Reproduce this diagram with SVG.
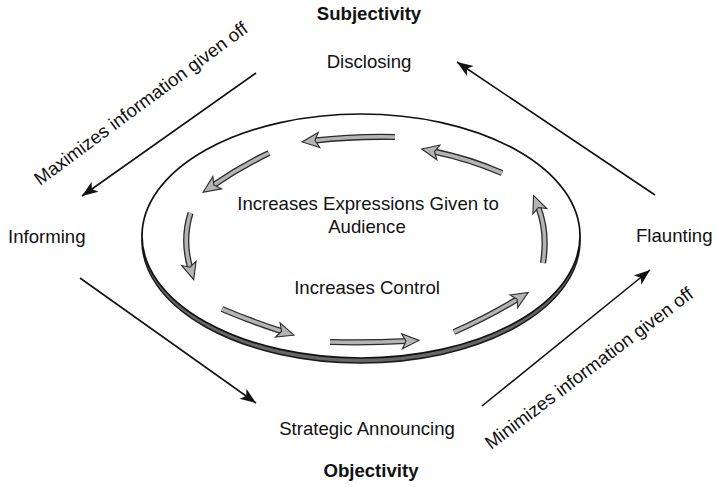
<svg xmlns="http://www.w3.org/2000/svg" width="717" height="487" viewBox="0 0 717 487">
<style>
text{font-family:"Liberation Sans",Arial,sans-serif;font-size:18.6px;fill:#111}
.b{font-weight:bold}
.c{text-anchor:middle}
.ln{fill:none;stroke:#111;stroke-width:1.6}
.so{fill:none;stroke:#2a2a2a;stroke-width:6.2;stroke-linecap:butt}
.si{fill:none;stroke:#b4b4b4;stroke-width:3.6;stroke-linecap:butt}
</style>
<defs>
<marker id="ah" markerUnits="userSpaceOnUse" markerWidth="20" markerHeight="14" refX="16" refY="6" orient="auto" overflow="visible">
<path d="M0,0 L16,6 L0,12 L4,6 Z" fill="#111"/>
</marker>
<marker id="bh" markerUnits="userSpaceOnUse" markerWidth="22" markerHeight="16" refX="5" refY="7.5" orient="auto" overflow="visible">
<path d="M0,0 L17,7.5 L0,15 L4,7.5 Z" fill="#b4b4b4" stroke="#2a2a2a" stroke-width="1.1" stroke-linejoin="miter"/>
</marker>
</defs>

<g id="disk">
<ellipse cx="361" cy="241" rx="219" ry="122" fill="#666" stroke="#1a1a1a" stroke-width="1.5"/>
<ellipse cx="361" cy="236" rx="219" ry="122" fill="#fff" stroke="#111" stroke-width="1.7"/>
</g>

<g id="cycle-arrows">
<path class="so" d="M395,137 Q355,136 314,140.6"/>
<path class="si" d="M395,137 Q355,136 314,140.6" marker-end="url(#bh)"/>
<path class="so" d="M502,173 Q470,159 433.5,151.4"/>
<path class="si" d="M502,173 Q470,159 433.5,151.4" marker-end="url(#bh)"/>
<path class="so" d="M543,263 Q548,232 538,206.6"/>
<path class="si" d="M543,263 Q548,232 538,206.6" marker-end="url(#bh)"/>
<path class="so" d="M454,332 Q490,316 518,298.7"/>
<path class="si" d="M454,332 Q490,316 518,298.7" marker-end="url(#bh)"/>
<path class="so" d="M330,342 Q368,343 407,341"/>
<path class="si" d="M330,342 Q368,343 407,341" marker-end="url(#bh)"/>
<path class="so" d="M222,309 Q250,321 282.5,331.5"/>
<path class="si" d="M222,309 Q250,321 282.5,331.5" marker-end="url(#bh)"/>
<path class="so" d="M190.5,213 Q182,240 190.3,268.2"/>
<path class="si" d="M190.5,213 Q182,240 190.3,268.2" marker-end="url(#bh)"/>
<path class="so" d="M269,153 Q240,167 213,185.5"/>
<path class="si" d="M269,153 Q240,167 213,185.5" marker-end="url(#bh)"/>
</g>

<g id="connectors">
<line class="ln" x1="256" y1="73" x2="82" y2="196" marker-end="url(#ah)"/>
<line class="ln" x1="80" y1="278" x2="256" y2="403" marker-end="url(#ah)"/>
<line class="ln" x1="482" y1="406" x2="650" y2="270" marker-end="url(#ah)"/>
<line class="ln" x1="655" y1="195" x2="457" y2="62" marker-end="url(#ah)"/>
</g>

<g id="subjectivity"><text class="b c" x="369" y="20">Subjectivity</text></g>
<g id="disclosing"><text class="c" x="369" y="68">Disclosing</text></g>
<g id="informing"><text x="8" y="243">Informing</text></g>
<g id="flaunting"><text x="636" y="242">Flaunting</text></g>
<g id="strategic-announcing"><text class="c" x="367" y="435">Strategic Announcing</text></g>
<g id="objectivity"><text class="b c" x="371" y="477">Objectivity</text></g>
<g id="center-labels">
<text class="c" x="368" y="210">Increases Expressions Given to</text>
<text class="c" x="367" y="233">Audience</text>
<text class="c" x="367" y="294">Increases Control</text>
</g>
<g id="edge-labels">
<text transform="translate(40,186) rotate(-36.5)">Maximizes information given off</text>
<text transform="translate(491,450) rotate(-37)">Minimizes information given off</text>
</g>
</svg>
